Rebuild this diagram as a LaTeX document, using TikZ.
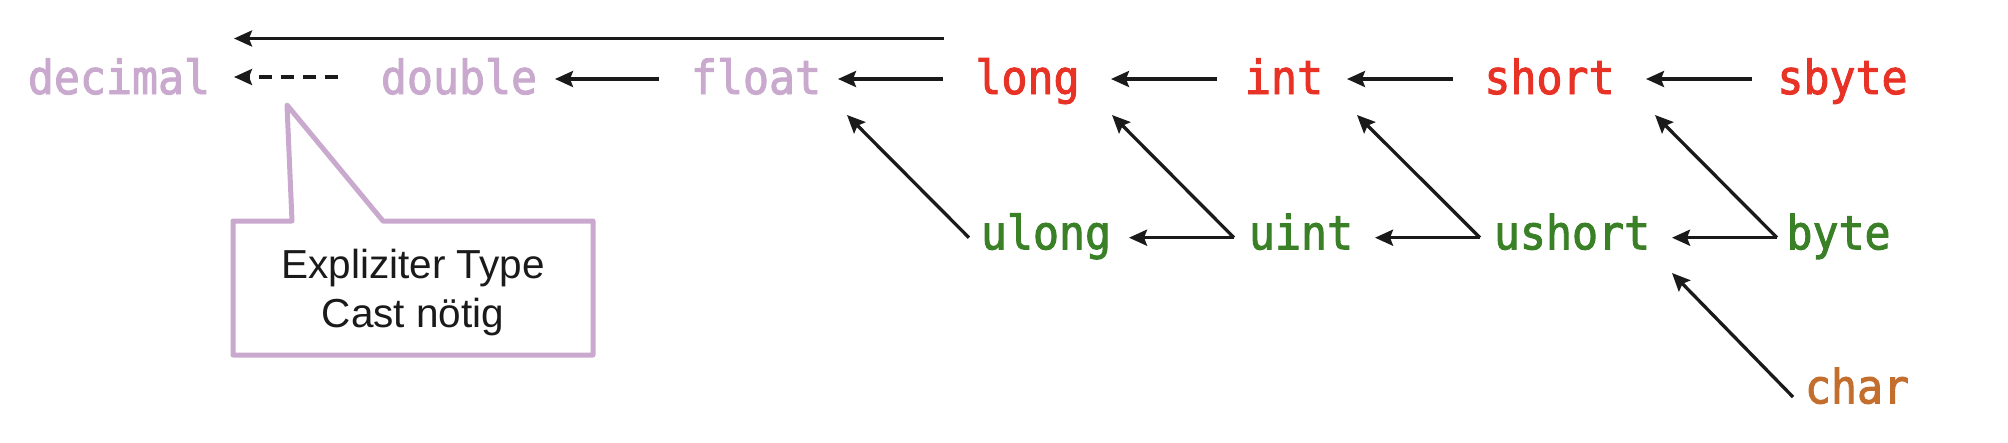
\documentclass[tikz,border=0pt]{standalone}
\usepackage{fontspec}
\setmainfont{Liberation Sans}
\newfontfamily\monofont[FakeStretch=0.92,FakeBold=2]{DejaVu Sans Mono}
\usetikzlibrary{arrows.meta}
\definecolor{purp}{RGB}{201,170,206}
\definecolor{tred}{RGB}{232,50,38}
\definecolor{tgreen}{RGB}{58,128,38}
\definecolor{torange}{RGB}{196,110,45}
\definecolor{arrblack}{RGB}{26,26,26}
\begin{document}
\begin{tikzpicture}[x=1pt,y=-1pt,
  tname/.style={font=\monofont\fontsize{47}{50}\selectfont, inner sep=0pt, anchor=center},
  rowa/.style={tname, text height=34pt, text depth=4pt},
  rowb/.style={tname, text height=27.2pt, text depth=4pt},
  arr/.style={draw=arrblack, line width=3.3pt, -{Stealth[length=18pt,width=16pt,inset=3pt]}},
  callout/.style={draw=purp, line width=5pt, line join=round, fill=white},
  notetext/.style={font=\fontsize{40.5}{49}\selectfont, align=center, inner sep=0pt, text=arrblack}
]
\fill[white] (0,0) rectangle (2008,442);
\useasboundingbox (0,0) rectangle (2008,442);

% row 1
\node[rowa, text=purp] (decimal) at (119,79) {decimal};
\node[rowa, text=purp] (double) at (459,79) {double};
\node[rowa, text=purp] (float) at (756,79) {float};
\node[rowa, text=tred] (long) at (1027.5,79) {long};
\node[rowa, text=tred] (int) at (1284,79) {int};
\node[rowa, text=tred] (short) at (1549.5,79) {short};
\node[rowa, text=tred] (sbyte) at (1842.5,79) {sbyte};
% row 2
\node[rowb, text=tgreen] (ulong) at (1046,237.7) {ulong};
\node[rowb, text=tgreen] (uint) at (1301,237.7) {uint};
\node[rowb, text=tgreen] (ushort) at (1572,237.7) {ushort};
\node[rowb, text=tgreen] (byte) at (1838.5,237.7) {byte};
% row 3
\node[rowb, text=torange] (char) at (1857,391.7) {char};

% callout
\draw[callout] (233,355) -- (233,221) -- (292,221) -- (287,105) -- (383,221) -- (593,221) -- (593,355) -- cycle;
\node[notetext, anchor=north] (note) at (413,249) {Expliziter Type\\Cast nötig};

% horizontal arrows row 1
\draw[arr] ([shift={(-83.5,-40.5)}]long.center) -- ([shift={(115,-40.5)}]decimal.center);
\draw[arr, dash pattern=on 13pt off 9pt] ([shift={(-121,-2)}]double.center) -- ([shift={(115,-2)}]decimal.center);
\draw[arr] ([xshift=-97pt]float.center) -- ([xshift=96pt]double.center);
\draw[arr] ([xshift=-84.5pt]long.center) -- ([xshift=82pt]float.center);
\draw[arr] ([xshift=-67pt]int.center) -- ([xshift=83.5pt]long.center);
\draw[arr] ([xshift=-96.5pt]short.center) -- ([xshift=63pt]int.center);
\draw[arr] ([xshift=-90.5pt]sbyte.center) -- ([xshift=96.5pt]short.center);
% horizontal arrows row 2
\draw[arr] ([xshift=-67pt]uint.center) -- ([xshift=83pt]ulong.center);
\draw[arr] ([xshift=-92pt]ushort.center) -- ([xshift=74pt]uint.center);
\draw[arr] ([xshift=-61.5pt]byte.center) -- ([xshift=100pt]ushort.center);
% diagonal arrows
\draw[arr] ([xshift=-77pt]ulong.center) -- ([shift={(91,36)}]float.center);
\draw[arr] ([xshift=-67pt]uint.center) -- ([shift={(84.5,36)}]long.center);
\draw[arr] ([xshift=-92pt]ushort.center) -- ([shift={(73,36)}]int.center);
\draw[arr] ([xshift=-61.5pt]byte.center) -- ([shift={(105.5,36)}]short.center);
\draw[arr] ([shift={(-64,5.3)}]char.center) -- ([shift={(100,35.3)}]ushort.center);
\end{tikzpicture}
\end{document}
